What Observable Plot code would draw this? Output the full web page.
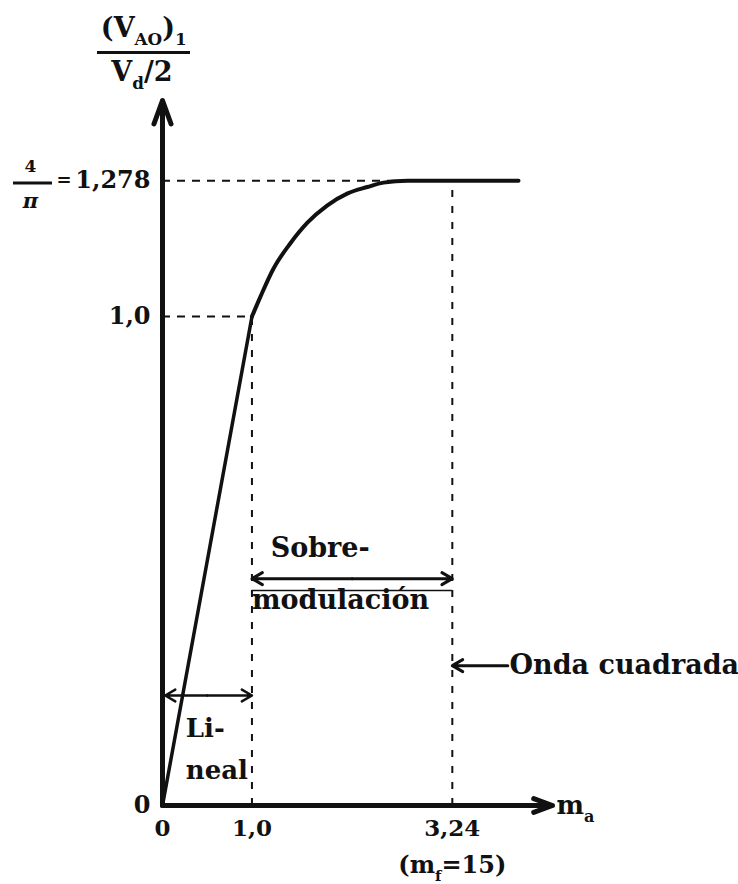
<!DOCTYPE html>
<html>
<head>
<meta charset="utf-8">
<script src="https://cdn.jsdelivr.net/npm/d3@7"></script>
<script src="https://cdn.jsdelivr.net/npm/@observablehq/plot@0.6"></script>
<style>
  html, body { margin: 0; padding: 0; background: #fff; }
  #chart { width: 738px; height: 884px; }
</style>
</head>
<body>
<div id="chart"></div>
<script>
// Fundamental output voltage (normalised) versus amplitude modulation ratio m_a
const maLinear = [0, 1.0];
const gainLinear = [0, 1.0];

const maOver = [1.0, 1.10, 1.24, 1.43, 1.62, 1.84, 2.07, 2.29, 2.47, 2.74, 3.24, 3.98];
const gainOver = [1.0, 1.043, 1.098, 1.150, 1.192, 1.227, 1.252, 1.265, 1.274, 1.278, 1.278, 1.278];

const xTicks = [0, 1.0, 3.24];
const xTickLabels = ["0", "1,0", "3,24"];
const yTicks = [0, 1.0, 1.278];
const yTickLabels = ["0", "1,0", "1,278"];

const maLinearEnd = 1.0;     // end of the linear region
const maSquareWave = 3.24;   // square-wave operation for m_f = 15
const gainSquareWave = 1.278;

const linearPts = maLinear.map((m, i) => ({m, g: gainLinear[i]}));
const overPts = maOver.map((m, i) => ({m, g: gainOver[i]}));

const FONT = "'DejaVu Serif', 'Liberation Serif', serif";
const INK = "#111";

const chart = Plot.plot({
  width: 738,
  height: 884,
  marginLeft: 162,
  marginRight: 186,
  marginTop: 100,
  marginBottom: 79,
  x: {domain: [0, 4.36]},
  y: {domain: [0, 1.442]},
  style: {fontFamily: FONT, fontWeight: "bold", color: INK, background: "#fff", overflow: "visible"},
  marks: [
    // reference dashes
    Plot.ruleY([gainSquareWave], {x1: 0, x2: 2.6, stroke: INK, strokeWidth: 2, strokeDasharray: "8,7"}),
    Plot.ruleY([gainLinear[1]], {x1: 0, x2: maLinearEnd, stroke: INK, strokeWidth: 2, strokeDasharray: "8,7"}),
    Plot.ruleX([maLinearEnd], {y1: 0, y2: gainLinear[1], stroke: INK, strokeWidth: 2, strokeDasharray: "7,9"}),
    Plot.ruleX([maSquareWave], {y1: 0, y2: gainSquareWave, stroke: INK, strokeWidth: 2, strokeDasharray: "7,9"}),

    // characteristic
    Plot.line(linearPts, {x: "m", y: "g", stroke: INK, strokeWidth: 3.5}),
    Plot.line(overPts, {x: "m", y: "g", curve: "monotone-x", stroke: INK, strokeWidth: 4}),

    // axes with arrowheads
    Plot.arrow([{}], {x1: 0, y1: 0, x2: 0, y2: 1.442, stroke: INK, strokeWidth: 5, headLength: 7.5, headAngle: 40}),
    Plot.arrow([{}], {x1: 0, y1: 0, x2: 4.36, y2: 0, stroke: INK, strokeWidth: 5, headLength: 6, headAngle: 40}),

    Plot.axisX({ticks: xTicks, tickFormat: (d, i) => xTickLabels[i], tickSize: 0, tickPadding: 14,
      fontSize: 23, fontWeight: "bold", fontFamily: FONT, label: null}),
    Plot.axisY({ticks: yTicks, tickFormat: (d, i) => yTickLabels[i], tickSize: 0, tickPadding: 12,
      fontSize: 24, fontWeight: "bold", fontFamily: FONT, label: null}),

    // axis titles
    Plot.text(["m_{a}"], {x: 4.405, y: 0, textAnchor: "start", fontSize: 26, fontWeight: "bold"}),
    Plot.text(["(m_{f}=15)"], {x: maSquareWave, y: -0.123, fontSize: 24, fontWeight: "bold"}),
    Plot.text(["(V_{AO})_{1}"], {x: -0.21, y: 1.589, fontSize: 27, fontWeight: "bold"}),
    Plot.ruleY([1.540], {x1: -0.727, x2: 0.313, stroke: INK, strokeWidth: 3}),
    Plot.text(["V_{d}/2"], {x: -0.23, y: 1.499, fontSize: 27, fontWeight: "bold"}),

    // 4/π = 1,278
    Plot.text(["4"], {x: -1.476, y: 1.307, fontSize: 17, fontWeight: "bold"}),
    Plot.ruleY([1.273], {x1: -1.666, x2: -1.23, stroke: INK, strokeWidth: 3}),
    Plot.text(["π"], {x: -1.476, y: 1.236, fontSize: 21, fontWeight: "bold", fontStyle: "italic"}),
    Plot.text(["="], {x: -1.10, y: 1.278, fontSize: 18, fontWeight: "bold"}),

    // linear region
    Plot.arrow([{}], {x1: 0.5, y1: 0.225, x2: 0.03, y2: 0.225, stroke: INK, strokeWidth: 2.5, headLength: 7}),
    Plot.arrow([{}], {x1: 0.5, y1: 0.225, x2: maLinearEnd, y2: 0.225, stroke: INK, strokeWidth: 2.5, headLength: 7}),
    Plot.text(["Li-"], {x: 0.26, y: 0.157, textAnchor: "start", fontSize: 26, fontWeight: "bold"}),
    Plot.text(["neal"], {x: 0.26, y: 0.072, textAnchor: "start", fontSize: 26, fontWeight: "bold"}),

    // overmodulation region
    Plot.arrow([{}], {x1: 2.12, y1: 0.464, x2: maLinearEnd, y2: 0.464, stroke: INK, strokeWidth: 3, headLength: 6}),
    Plot.arrow([{}], {x1: 2.12, y1: 0.464, x2: maSquareWave, y2: 0.464, stroke: INK, strokeWidth: 3, headLength: 6}),
    Plot.ruleY([0.440], {x1: maLinearEnd, x2: maSquareWave, stroke: INK, strokeWidth: 1.5}),
    Plot.text(["Sobre-"], {x: 1.21, y: 0.526, textAnchor: "start", fontSize: 27, fontWeight: "bold"}),
    Plot.text(["modulación"], {x: 1.0, y: 0.419, textAnchor: "start", fontSize: 27, fontWeight: "bold"}),

    // square wave
    Plot.arrow([{}], {x1: 3.86, y1: 0.286, x2: maSquareWave, y2: 0.286, stroke: INK, strokeWidth: 3, headLength: 6}),
    Plot.text(["Onda cuadrada"], {x: 3.88, y: 0.286, textAnchor: "start", fontSize: 27, fontWeight: "bold"})
  ]
});

document.getElementById("chart").appendChild(chart);

// Turn "_{...}" markup into subscript tspans
function applySubscripts(svg) {
  for (const t of svg.querySelectorAll("text")) {
    const s = t.textContent;
    if (!s.includes("_{")) continue;
    const size = parseFloat(getComputedStyle(t).fontSize) || 24;
    const shift = size * 0.3;
    t.textContent = "";
    const re = /_\{([^}]*)\}/g;
    let last = 0, offset = 0, m;
    const add = (str, targetOffset, small) => {
      const ts = document.createElementNS("http://www.w3.org/2000/svg", "tspan");
      ts.textContent = str;
      const dy = targetOffset - offset;
      if (dy) ts.setAttribute("dy", dy);
      if (small) ts.setAttribute("font-size", size * 0.62);
      offset = targetOffset;
      t.appendChild(ts);
    };
    while ((m = re.exec(s))) {
      if (m.index > last) add(s.slice(last, m.index), 0, false);
      add(m[1], shift, true);
      last = re.lastIndex;
    }
    if (last < s.length) add(s.slice(last), 0, false);
  }
}
applySubscripts(chart);
</script>
</body>
</html>
